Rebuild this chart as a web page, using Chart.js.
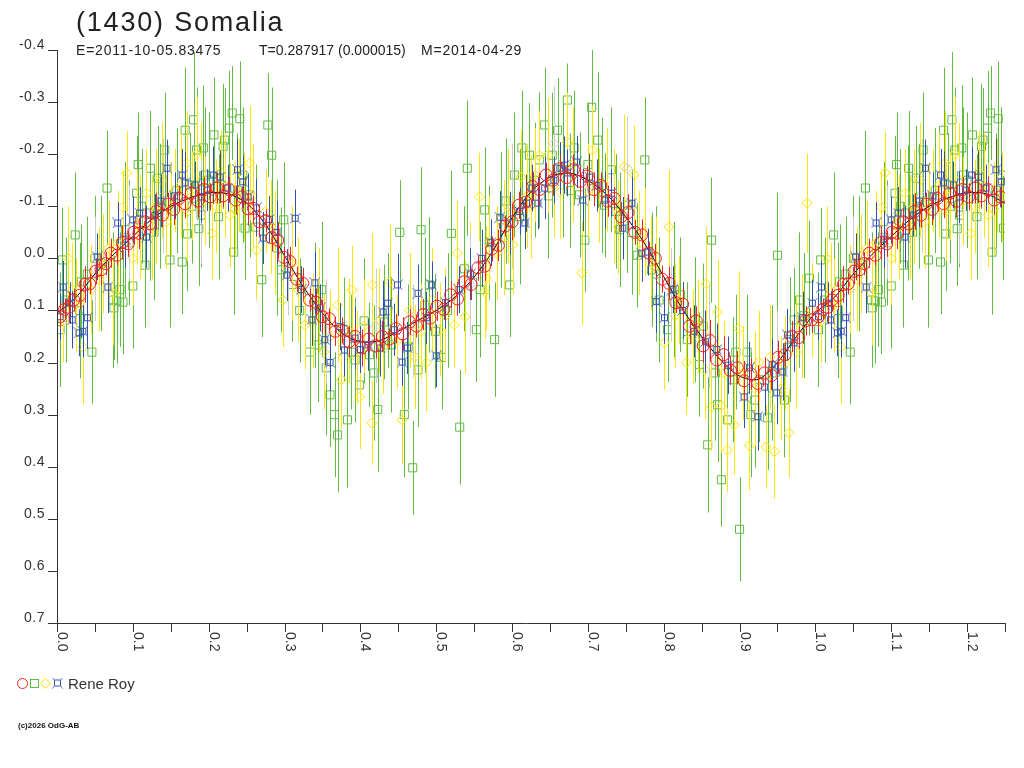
<!DOCTYPE html>
<html>
<head>
<meta charset="utf-8">
<script src="https://cdn.jsdelivr.net/npm/chart.js@4.4.1/dist/chart.umd.min.js"></script>
<style>
  html, body { margin: 0; padding: 0; background: #fff; }
  canvas { display: block; }
</style>
</head>
<body>
<canvas id="lc" width="1024" height="768"></canvas>
<script>
// phase / reduced magnitude / error, one set of arrays per symbol

const redPhase = [0.004,0.010,0.016,0.022,0.030,0.037,0.043,0.051,0.058,0.064,
  0.071,0.079,0.086,0.094,0.101,0.108,0.116,0.123,0.131,0.139,
  0.146,0.154,0.161,0.169,0.177,0.186,0.194,0.202,0.211,0.219,
  0.227,0.236,0.244,0.252,0.259,0.267,0.275,0.283,0.291,0.299,
  0.307,0.316,0.324,0.333,0.341,0.350,0.359,0.367,0.376,0.385,
  0.393,0.402,0.411,0.420,0.429,0.438,0.447,0.456,0.465,0.474,
  0.483,0.492,0.501,0.510,0.519,0.528,0.537,0.546,0.555,0.564,
  0.573,0.582,0.591,0.600,0.609,0.618,0.627,0.636,0.645,0.654,
  0.663,0.672,0.681,0.690,0.699,0.708,0.717,0.726,0.735,0.744,
  0.753,0.762,0.771,0.780,0.789,0.798,0.807,0.816,0.825,0.834,
  0.843,0.852,0.861,0.870,0.879,0.888,0.897,0.906,0.915,0.924,
  0.933,0.942,0.951,0.960,0.969,0.978,0.987,0.995];
const redMag = [0.112,0.098,0.094,0.080,0.071,0.050,0.049,0.025,0.022,0.010,
  -0.010,-0.006,-0.030,-0.028,-0.050,-0.048,-0.070,-0.066,-0.090,-0.083,
  -0.104,-0.094,-0.115,-0.105,-0.125,-0.110,-0.132,-0.118,-0.135,-0.120,
  -0.132,-0.112,-0.118,-0.095,-0.096,-0.070,-0.072,-0.040,-0.035,-0.002,
  0.006,0.040,0.048,0.080,0.084,0.112,0.116,0.140,0.138,0.160,
  0.150,0.172,0.155,0.168,0.150,0.155,0.135,0.145,0.122,0.130,
  0.108,0.115,0.092,0.098,0.070,0.078,0.045,0.050,0.018,0.015,
  -0.018,-0.025,-0.062,-0.070,-0.102,-0.108,-0.138,-0.132,-0.160,-0.150,
  -0.172,-0.155,-0.170,-0.148,-0.158,-0.132,-0.140,-0.110,-0.115,-0.080,
  -0.088,-0.050,-0.045,-0.010,0.000,0.040,0.048,0.085,0.088,0.130,
  0.120,0.168,0.158,0.195,0.185,0.215,0.210,0.235,0.222,0.240,
  0.220,0.225,0.190,0.185,0.150,0.152,0.120,0.118];
const redErr = [0.025,0.020,0.030,0.022,0.028,0.035,0.020,0.025,0.030,0.022,
  0.028,0.020,0.032,0.025,0.022,0.030,0.026,0.020,0.035,0.024,
  0.022,0.030,0.025,0.028,0.020,0.032,0.024,0.026,0.030,0.022,
  0.025,0.028,0.020,0.032,0.024,0.030,0.022,0.026,0.035,0.020,
  0.028,0.024,0.030,0.022,0.026,0.032,0.020,0.028,0.025,0.030,
  0.022,0.035,0.026,0.024,0.030,0.020,0.028,0.032,0.025,0.022,
  0.030,0.024,0.028,0.020,0.026,0.032,0.022,0.030,0.025,0.028,
  0.024,0.030,0.020,0.035,0.026,0.022,0.028,0.032,0.024,0.030,
  0.026,0.022,0.030,0.028,0.020,0.032,0.025,0.030,0.022,0.028,
  0.035,0.024,0.030,0.022,0.028,0.026,0.032,0.020,0.030,0.035,
  0.028,0.032,0.040,0.030,0.035,0.028,0.032,0.038,0.030,0.035,
  0.030,0.028,0.032,0.025,0.030,0.022,0.028,0.025];

const bluePhase = [0.004,0.008,0.017,0.020,0.029,0.034,0.040,0.053,0.067,0.080,
  0.090,0.100,0.109,0.118,0.129,0.137,0.145,0.155,0.165,0.169,
  0.182,0.190,0.198,0.206,0.215,0.225,0.238,0.245,0.252,0.263,
  0.272,0.280,0.290,0.303,0.314,0.322,0.336,0.340,0.347,0.353,
  0.360,0.373,0.379,0.393,0.400,0.410,0.426,0.430,0.436,0.445,
  0.449,0.455,0.462,0.476,0.487,0.494,0.500,0.512,0.530,0.545,
  0.560,0.572,0.584,0.597,0.610,0.617,0.619,0.626,0.634,0.643,
  0.655,0.663,0.669,0.673,0.685,0.693,0.702,0.712,0.722,0.731,
  0.746,0.758,0.771,0.779,0.790,0.801,0.812,0.825,0.840,0.855,
  0.870,0.885,0.906,0.913,0.924,0.933,0.943,0.949,0.957,0.963,
  0.972,0.983,0.996];
const blueMag = [0.112,0.055,0.086,0.118,0.143,0.140,0.114,-0.003,0.055,-0.068,
  -0.037,-0.074,-0.087,-0.041,-0.083,-0.110,-0.173,-0.120,-0.160,-0.145,
  -0.141,-0.118,-0.131,-0.160,-0.156,-0.135,-0.170,-0.147,-0.118,-0.097,
  -0.039,-0.075,-0.050,0.032,-0.077,0.060,0.118,0.047,0.095,0.156,
  0.200,0.131,0.176,0.153,0.175,0.166,0.172,0.103,0.086,0.137,
  0.051,0.199,0.172,0.067,0.114,0.051,0.187,0.085,0.060,0.030,
  0.000,-0.030,-0.079,-0.068,-0.090,-0.068,-0.106,-0.135,-0.106,-0.135,
  -0.150,-0.173,-0.179,-0.164,-0.185,-0.112,-0.156,-0.140,-0.112,-0.125,
  -0.058,-0.106,-0.010,-0.012,0.083,0.114,0.060,0.100,0.140,0.160,
  0.175,0.205,0.266,0.210,0.304,0.247,0.204,0.258,0.218,0.147,
  0.162,0.114,0.086];
const blueErr = [0.045,0.050,0.040,0.055,0.045,0.050,0.060,0.045,0.050,0.040,
  0.055,0.045,0.050,0.060,0.040,0.050,0.055,0.045,0.050,0.060,
  0.045,0.050,0.040,0.055,0.050,0.045,0.060,0.050,0.045,0.055,
  0.050,0.045,0.060,0.050,0.055,0.045,0.050,0.060,0.045,0.050,
  0.055,0.045,0.050,0.060,0.045,0.050,0.055,0.060,0.045,0.050,
  0.060,0.045,0.050,0.055,0.050,0.045,0.060,0.050,0.045,0.050,
  0.055,0.045,0.050,0.060,0.045,0.050,0.055,0.045,0.050,0.060,
  0.045,0.050,0.055,0.045,0.050,0.060,0.045,0.050,0.055,0.045,
  0.060,0.050,0.055,0.045,0.060,0.050,0.045,0.055,0.050,0.060,
  0.050,0.055,0.060,0.050,0.065,0.055,0.050,0.060,0.055,0.050,
  0.055,0.050,0.045];

const yellowPhase = [0.008,0.015,0.025,0.034,0.045,0.060,0.074,0.087,0.092,0.100,
  0.110,0.118,0.130,0.144,0.155,0.171,0.172,0.184,0.195,0.205,
  0.216,0.228,0.240,0.246,0.254,0.263,0.275,0.288,0.298,0.310,
  0.327,0.345,0.360,0.370,0.375,0.389,0.399,0.405,0.415,0.416,
  0.430,0.439,0.455,0.472,0.487,0.505,0.524,0.528,0.538,0.557,
  0.564,0.566,0.570,0.590,0.601,0.612,0.625,0.636,0.647,0.663,
  0.673,0.692,0.706,0.715,0.735,0.748,0.761,0.775,0.790,0.801,
  0.807,0.820,0.830,0.845,0.854,0.856,0.863,0.871,0.876,0.884,
  0.893,0.899,0.905,0.913,0.925,0.935,0.946,0.955,0.965,0.975,
  0.989,0.995,
  0.020,0.055,0.068,0.080,0.105,0.125,0.138,0.150,0.163,0.178,
  0.190,0.210,0.222,0.235,0.258,0.282,0.318,0.338,0.352,0.385,
  0.395,0.425,0.448,0.465,0.480,0.495,0.512,0.545,0.580,0.595,
  0.620,0.630,0.655,0.680,0.700,0.725,0.740,0.768,0.783,0.815,
  0.838,0.880,0.920,0.940,0.960,0.982];
const yellowMag = [0.120,0.000,0.090,0.170,0.060,0.010,0.067,-0.098,-0.164,0.000,
  -0.060,-0.125,-0.100,-0.070,-0.130,-0.183,-0.090,-0.200,-0.110,-0.048,
  -0.165,-0.083,-0.140,-0.118,-0.183,-0.016,-0.090,-0.030,0.080,0.010,
  0.128,0.080,0.150,0.090,0.233,0.061,0.266,0.130,0.316,0.051,
  0.170,0.045,0.310,0.189,0.200,0.137,0.128,-0.010,0.112,-0.118,
  0.064,0.038,-0.035,-0.040,-0.026,-0.156,-0.100,-0.198,-0.198,-0.127,
  -0.223,0.028,-0.208,-0.120,-0.100,-0.176,-0.160,-0.050,0.020,0.162,
  -0.060,0.080,0.200,0.130,0.214,0.049,0.285,0.103,0.283,0.368,
  0.320,0.135,0.220,0.360,0.200,0.362,0.371,0.250,0.335,0.180,
  -0.106,0.100,
  0.060,0.040,-0.020,-0.030,-0.080,-0.060,-0.150,-0.095,-0.140,-0.120,
  -0.150,-0.100,-0.140,-0.095,-0.120,-0.060,0.060,0.120,0.180,0.140,
  0.190,0.120,0.160,0.100,0.140,0.080,0.110,0.030,-0.010,-0.100,
  -0.120,-0.160,-0.140,-0.180,-0.130,-0.150,-0.060,-0.030,0.010,0.110,
  0.150,0.220,0.250,0.190,0.200,0.130];
const yellowErr = [0.080,0.100,0.090,0.110,0.085,0.095,0.100,0.070,0.080,0.090,
  0.100,0.085,0.110,0.090,0.080,0.100,0.095,0.110,0.085,0.090,
  0.080,0.100,0.090,0.085,0.110,0.095,0.080,0.100,0.090,0.110,
  0.085,0.100,0.090,0.110,0.095,0.085,0.100,0.090,0.080,0.100,
  0.090,0.110,0.085,0.100,0.095,0.090,0.080,0.100,0.110,0.085,
  0.090,0.100,0.085,0.110,0.095,0.090,0.100,0.085,0.110,0.090,
  0.095,0.100,0.085,0.090,0.110,0.100,0.095,0.085,0.100,0.090,
  0.110,0.085,0.100,0.090,0.095,0.110,0.085,0.100,0.090,0.080,
  0.095,0.110,0.090,0.085,0.100,0.080,0.090,0.100,0.085,0.110,
  0.095,0.090,
  0.090,0.100,0.090,0.100,0.090,0.100,0.110,0.090,0.100,0.085,
  0.110,0.090,0.100,0.090,0.100,0.090,0.100,0.090,0.110,0.100,
  0.090,0.100,0.090,0.110,0.090,0.100,0.090,0.100,0.090,0.110,
  0.100,0.090,0.100,0.110,0.090,0.100,0.090,0.100,0.090,0.100,
  0.090,0.100,0.110,0.100,0.090,0.100];

const greenPhase = [0.004,0.007,0.024,0.030,0.032,0.046,0.050,0.066,0.074,0.075,
  0.079,0.083,0.087,0.090,0.100,0.105,0.107,0.116,0.122,0.123,
  0.133,0.136,0.142,0.149,0.165,0.169,0.172,0.175,0.180,0.184,
  0.187,0.190,0.193,0.195,0.207,0.219,0.221,0.227,0.231,0.233,
  0.241,0.245,0.248,0.254,0.270,0.278,0.283,0.296,0.299,0.320,
  0.333,0.344,0.349,0.360,0.366,0.370,0.379,0.383,0.393,0.399,
  0.412,0.423,0.431,0.441,0.452,0.458,0.469,0.476,0.480,0.491,
  0.499,0.507,0.520,0.531,0.541,0.553,0.564,0.577,0.586,0.597,
  0.603,0.613,0.623,0.636,0.643,0.653,0.660,0.667,0.673,0.682,
  0.689,0.696,0.705,0.713,0.722,0.731,0.742,0.752,0.765,0.775,
  0.784,0.794,0.805,0.814,0.831,0.841,0.847,0.858,0.863,0.871,
  0.876,0.884,0.891,0.900,0.910,0.920,0.926,0.937,0.950,0.959,
  0.966,0.972,0.979,0.992,
  0.012,0.040,0.058,0.095,0.112,0.128,0.158,0.178,0.200,0.213,
  0.238,0.262,0.290,0.310,0.340,0.355,0.388,0.405,0.418,0.436,
  0.463,0.485,0.515,0.537,0.558,0.570,0.592,0.610,0.630,0.648,
  0.677,0.700,0.718,0.737,0.758,0.790,0.822,0.852,0.868,0.895,
  0.915,0.943,0.985];
const greenMag = [0.137,0.003,-0.045,0.100,0.045,0.180,0.000,-0.135,0.080,0.095,
  0.082,0.060,0.084,-0.055,0.053,-0.125,-0.180,0.013,-0.087,-0.173,
  -0.154,-0.100,-0.208,0.003,0.007,-0.246,-0.047,-0.141,-0.266,-0.208,
  -0.057,-0.083,-0.212,-0.160,-0.237,-0.215,-0.227,-0.250,-0.279,-0.012,
  -0.268,-0.160,-0.058,-0.122,0.041,-0.256,-0.198,0.022,-0.074,0.100,
  0.180,0.166,0.060,0.262,0.300,0.339,0.137,0.310,0.195,0.243,
  0.185,0.290,0.122,0.166,-0.050,0.300,0.402,0.214,-0.055,0.051,
  0.140,0.190,-0.048,0.324,-0.173,0.137,-0.093,0.156,-0.074,0.051,
  -0.160,-0.212,-0.198,-0.189,-0.256,-0.198,-0.246,-0.170,-0.304,-0.212,
  -0.122,-0.035,-0.290,-0.227,-0.102,-0.170,-0.055,-0.102,-0.006,-0.189,
  0.022,0.080,0.137,0.060,0.156,0.118,0.204,0.358,-0.035,0.281,
  0.425,0.310,0.233,0.520,0.180,0.272,0.233,0.306,-0.006,0.272,
  0.156,0.118,0.080,0.038,
  0.080,0.030,0.010,-0.030,-0.100,-0.050,-0.130,-0.100,-0.150,-0.080,
  -0.130,-0.060,-0.020,0.050,0.090,0.210,0.180,0.120,0.220,0.100,
  0.170,0.090,0.100,0.020,0.060,-0.030,-0.110,-0.080,-0.150,-0.120,
  -0.130,-0.180,-0.140,-0.090,-0.050,0.030,0.070,0.130,0.220,0.180,
  0.300,0.220,0.110];
const greenErr = [0.110,0.100,0.120,0.130,0.110,0.100,0.120,0.110,0.130,0.100,
  0.120,0.110,0.100,0.130,0.120,0.110,0.100,0.120,0.130,0.110,
  0.100,0.120,0.110,0.130,0.100,0.120,0.110,0.100,0.130,0.120,
  0.110,0.100,0.120,0.130,0.110,0.120,0.100,0.110,0.090,0.120,
  0.110,0.130,0.100,0.120,0.110,0.100,0.130,0.120,0.110,0.100,
  0.120,0.110,0.130,0.100,0.120,0.110,0.100,0.130,0.120,0.110,
  0.100,0.120,0.110,0.130,0.100,0.120,0.090,0.110,0.120,0.130,
  0.110,0.100,0.120,0.110,0.130,0.100,0.120,0.110,0.130,0.100,
  0.120,0.110,0.100,0.130,0.110,0.120,0.100,0.130,0.070,0.110,
  0.120,0.100,0.110,0.130,0.100,0.120,0.110,0.130,0.100,0.120,
  0.110,0.120,0.100,0.130,0.110,0.120,0.100,0.130,0.120,0.110,
  0.090,0.100,0.120,0.100,0.110,0.130,0.120,0.100,0.120,0.110,
  0.120,0.100,0.130,0.110,
  0.120,0.110,0.130,0.120,0.110,0.130,0.120,0.110,0.130,0.120,
  0.110,0.120,0.130,0.110,0.120,0.130,0.110,0.120,0.130,0.110,
  0.120,0.130,0.110,0.120,0.130,0.110,0.120,0.130,0.110,0.120,
  0.110,0.120,0.130,0.110,0.120,0.130,0.110,0.120,0.130,0.110,
  0.120,0.130,0.120];

const greyPhase = [0.050,0.095,0.140,0.190,0.305,0.355,0.420,0.470,0.545,0.600,0.655,0.752,0.810,0.860,0.950];
const greyMag = [0.020,-0.050,-0.120,-0.090,0.020,0.140,0.130,0.140,0.050,-0.100,-0.220,-0.173,0.070,0.150,0.210];
const greyErr = [0.100,0.090,0.110,0.100,0.090,0.100,0.110,0.090,0.100,0.120,0.110,0.100,0.090,0.100,0.110];

// fitted light curve
const curvePhase = [0.000,0.025,0.050,0.075,0.100,0.125,0.150,0.175,0.200,0.225,
  0.250,0.275,0.300,0.325,0.350,0.375,0.400,0.425,0.450,0.475,
  0.500,0.525,0.550,0.575,0.600,0.625,0.650,0.675,0.700,0.725,
  0.750,0.775,0.800,0.825,0.850,0.875,0.900,0.925,0.950,0.975,1.000];
const curveMag = [0.105,0.075,0.030,-0.008,-0.042,-0.075,-0.100,-0.116,-0.126,-0.124,
  -0.106,-0.065,-0.005,0.055,0.105,0.143,0.160,0.158,0.140,0.120,
  0.100,0.074,0.036,-0.015,-0.078,-0.128,-0.156,-0.164,-0.150,-0.122,
  -0.080,-0.028,0.035,0.098,0.150,0.195,0.226,0.232,0.200,0.150,0.105];

const yTicks = [-0.4,-0.3,-0.2,-0.1,0.0,0.1,0.2,0.3,0.4,0.5,0.6,0.7];
const xLabels = ['0.0','0.1','0.2','0.3','0.4','0.5','0.6','0.7','0.8','0.9','1.0','1.1','1.2'];

const RED = 'rgb(240,32,32)';
const GREEN = 'rgb(96,188,64)';
const YELLOW = 'rgb(255,230,0)';
const BLUE = 'rgb(48,80,176)';
const GREY = 'rgb(205,205,205)';
const AXIS = '#333';
const FONT = '"Liberation Sans", Arial, sans-serif';

// phases below 0.25 are shown a second time after 1.0
function wrap(phase, mag, err) {
  const data = [], errs = [];
  phase.forEach((p, i) => {
    data.push({ x: p, y: mag[i] });
    errs.push(err[i]);
    if (p < 0.25) {
      data.push({ x: p + 1, y: mag[i] });
      errs.push(err[i]);
    }
  });
  return { data, errs };
}

function starSymbol(color) {
  const c = document.createElement('canvas');
  c.width = 11;
  c.height = 11;
  const g = c.getContext('2d');
  g.strokeStyle = color;
  g.lineWidth = 1;
  g.beginPath();
  g.rect(2.5, 2.5, 6, 6);
  g.moveTo(0.5, 0.5); g.lineTo(2.5, 2.5);
  g.moveTo(10.5, 0.5); g.lineTo(8.5, 2.5);
  g.moveTo(0.5, 10.5); g.lineTo(2.5, 8.5);
  g.moveTo(10.5, 10.5); g.lineTo(8.5, 8.5);
  g.stroke();
  return c;
}
const star = starSymbol(BLUE);

const red = wrap(redPhase, redMag, redErr);
const blue = wrap(bluePhase, blueMag, blueErr);
const yellow = wrap(yellowPhase, yellowMag, yellowErr);
const green = wrap(greenPhase, greenMag, greenErr);
const grey = wrap(greyPhase, greyMag, greyErr);

const curve = curvePhase.map((p, i) => ({ x: p, y: curveMag[i] }));
curvePhase.forEach((p, i) => {
  if (p > 0 && p <= 0.25) curve.push({ x: p + 1, y: curveMag[i] });
});

const errorBars = {
  id: 'errorBars',
  beforeDatasetDraw(chart, args) {
    const ds = chart.data.datasets[args.index];
    if (!ds.errs) return;
    const { ctx, chartArea } = chart;
    const xs = chart.scales.x, ys = chart.scales.y;
    ctx.save();
    ctx.beginPath();
    ctx.rect(chartArea.left, chartArea.top, chartArea.right - chartArea.left, chartArea.bottom - chartArea.top);
    ctx.clip();
    ctx.strokeStyle = ds.barColor;
    ctx.lineWidth = 1;
    ctx.beginPath();
    ds.data.forEach((p, i) => {
      const x = Math.round(xs.getPixelForValue(p.x)) + 0.5;
      ctx.moveTo(x, ys.getPixelForValue(p.y - ds.errs[i]));
      ctx.lineTo(x, ys.getPixelForValue(p.y + ds.errs[i]));
    });
    ctx.stroke();
    ctx.restore();
  }
};

const frame = {
  id: 'frame',
  afterDraw(chart) {
    const { ctx, chartArea } = chart;
    const xs = chart.scales.x, ys = chart.scales.y;
    const left = chartArea.left, bottom = chartArea.bottom;
    ctx.save();
    ctx.strokeStyle = AXIS;
    ctx.fillStyle = AXIS;
    ctx.lineWidth = 1;

    // axes
    ctx.beginPath();
    ctx.moveTo(left + 0.5, ys.getPixelForValue(-0.4));
    ctx.lineTo(left + 0.5, bottom + 9);
    ctx.moveTo(left - 9, bottom + 0.5);
    ctx.lineTo(chartArea.right, bottom + 0.5);
    ctx.stroke();

    // y ticks and labels (label sits above its tick)
    ctx.font = '14px ' + FONT;
    ctx.letterSpacing = '0.5px';
    ctx.textAlign = 'right';
    ctx.textBaseline = 'alphabetic';
    yTicks.forEach(v => {
      const y = Math.round(ys.getPixelForValue(v)) + 0.5;
      ctx.beginPath();
      ctx.moveTo(left - 9, y);
      ctx.lineTo(left, y);
      ctx.stroke();
      ctx.fillText(v.toFixed(1), left - 12, y - 2);
    });

    // x ticks every 0.05, labels every 0.1, turned a quarter clockwise
    ctx.beginPath();
    for (let k = 0; k <= 25; k++) {
      const x = Math.round(xs.getPixelForValue(k * 0.05)) + 0.5;
      ctx.moveTo(x, bottom);
      ctx.lineTo(x, bottom + 9);
    }
    ctx.stroke();
    ctx.textAlign = 'left';
    ctx.letterSpacing = '0px';
    xLabels.forEach(t => {
      const x = Math.round(xs.getPixelForValue(parseFloat(t)));
      ctx.save();
      ctx.translate(x + 1, bottom + 9);
      ctx.rotate(Math.PI / 2);
      ctx.fillText(t, 0, 0);
      ctx.restore();
    });

    // titles
    ctx.fillStyle = '#222';
    ctx.font = '27px ' + FONT;
    ctx.letterSpacing = '1.8px';
    ctx.fillText('(1430) Somalia', 76, 31);
    ctx.font = '14px ' + FONT;
    ctx.letterSpacing = '0.8px';
    ctx.fillText('E=2011-10-05.83475', 76, 55);
    ctx.letterSpacing = '0px';
    ctx.fillText('T=0.287917 (0.000015)', 259, 55);
    ctx.letterSpacing = '0.8px';
    ctx.fillText('M=2014-04-29', 421, 55);
    ctx.letterSpacing = '0px';

    // legend
    const ly = 683.5;
    ctx.lineWidth = 1;
    ctx.strokeStyle = RED;
    ctx.beginPath();
    ctx.arc(22.5, ly, 5, 0, Math.PI * 2);
    ctx.stroke();
    ctx.strokeStyle = GREEN;
    ctx.strokeRect(30.5, ly - 4, 8, 8);
    ctx.strokeStyle = YELLOW;
    ctx.beginPath();
    ctx.moveTo(40.5, ly);
    ctx.lineTo(45.5, ly - 5);
    ctx.lineTo(50.5, ly);
    ctx.lineTo(45.5, ly + 5);
    ctx.closePath();
    ctx.stroke();
    ctx.drawImage(star, 52, ly - 6);
    ctx.fillStyle = '#333';
    ctx.font = '15px ' + FONT;
    ctx.fillText('Rene Roy', 68, 689);

    ctx.fillStyle = '#111';
    ctx.font = 'bold 8px ' + FONT;
    ctx.fillText('(c)2026 OdG-AB', 18, 728);
    ctx.restore();
  }
};

new Chart(document.getElementById('lc'), {
  type: 'scatter',
  data: {
    datasets: [
      { label: 'green', data: green.data, errs: green.errs, barColor: GREEN, order: 6,
        pointStyle: 'rect', pointRadius: 5.7, borderColor: GREEN, backgroundColor: 'transparent', borderWidth: 1 },
      { label: 'yellow', data: yellow.data, errs: yellow.errs, barColor: YELLOW, order: 5,
        pointStyle: 'rectRot', pointRadius: 5, borderColor: YELLOW, backgroundColor: 'transparent', borderWidth: 1 },
      { label: 'grey', data: grey.data, errs: grey.errs, barColor: GREY, order: 4,
        pointStyle: 'rectRot', pointRadius: 5, borderColor: GREY, backgroundColor: 'transparent', borderWidth: 1 },
      { label: 'fit', data: curve, order: 3, showLine: true, pointRadius: 0,
        borderColor: '#000', borderWidth: 1, tension: 0.3, fill: false },
      { label: 'blue', data: blue.data, errs: blue.errs, barColor: BLUE, order: 2,
        pointStyle: star, borderColor: BLUE, backgroundColor: 'transparent' },
      { label: 'red', data: red.data, errs: red.errs, barColor: RED, order: 1,
        pointStyle: 'circle', pointRadius: 6, borderColor: RED, backgroundColor: 'transparent', borderWidth: 1 }
    ]
  },
  options: {
    responsive: false,
    animation: false,
    devicePixelRatio: 1,
    layout: { padding: { left: 57, right: 19, top: 50, bottom: 145 } },
    scales: {
      x: { type: 'linear', min: 0, max: 1.25, display: false },
      y: { type: 'linear', min: -0.4, max: 0.7, reverse: true, display: false }
    },
    plugins: {
      legend: { display: false },
      tooltip: { enabled: false },
      title: { display: false }
    }
  },
  plugins: [errorBars, frame]
});
</script>
</body>
</html>
